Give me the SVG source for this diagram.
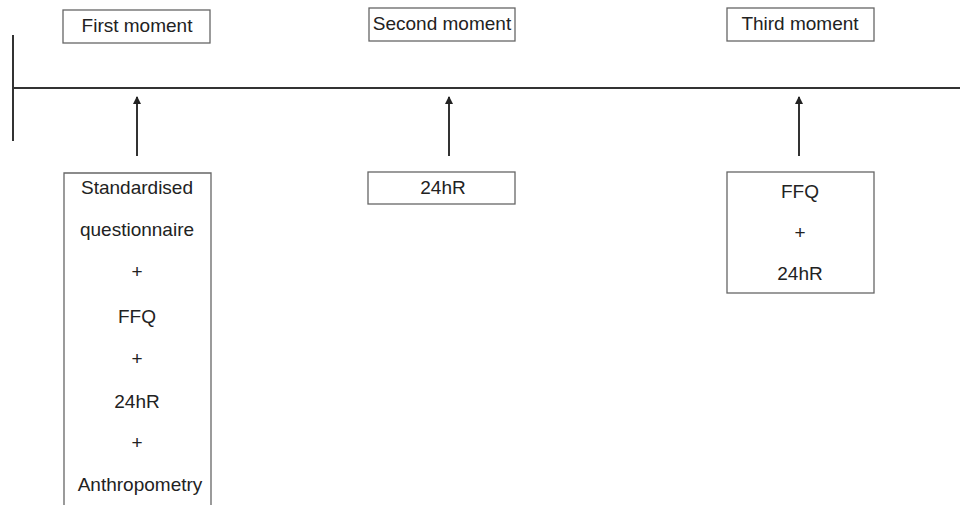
<svg xmlns="http://www.w3.org/2000/svg" width="960" height="505" viewBox="0 0 960 505">
<defs>
<style>
.box{fill:#fff;stroke:#666;stroke-width:1.3}
.t{font-family:"Liberation Sans",Arial,sans-serif;font-size:19px;fill:#222;text-anchor:middle}
.ln{stroke:#333;stroke-width:2;fill:none}
</style>
<marker id="ah" viewBox="0 0 8 10" refX="7" refY="5" markerWidth="8" markerHeight="10" orient="auto" markerUnits="userSpaceOnUse"><path d="M0,1L8,5L0,9z" fill="#222"/></marker>
</defs>
<rect width="960" height="505" fill="#fff"/>
<g id="connectors">
<line class="ln" x1="13" y1="35" x2="13" y2="141"/>
<line class="ln" x1="13" y1="88" x2="960" y2="88"/>
<line class="ln" x1="137" y1="156" x2="137" y2="97" marker-end="url(#ah)"/>
<line class="ln" x1="449" y1="156" x2="449" y2="97" marker-end="url(#ah)"/>
<line class="ln" x1="799" y1="156" x2="799" y2="97" marker-end="url(#ah)"/>
</g>
<g id="first-moment"><rect class="box" x="63" y="10" width="147" height="33"/><text class="t" x="137" y="32">First moment</text></g>
<g id="second-moment"><rect class="box" x="369" y="8" width="146" height="33"/><text class="t" x="442" y="30">Second moment</text></g>
<g id="third-moment"><rect class="box" x="727" y="8" width="147" height="33"/><text class="t" x="800" y="30">Third moment</text></g>
<g id="first-methods"><path class="box" d="M64,506V173H211V506"/>
<text class="t" x="137" y="194">Standardised</text>
<text class="t" x="137" y="236">questionnaire</text>
<text class="t" x="137" y="278">+</text>
<text class="t" x="137" y="323">FFQ</text>
<text class="t" x="137" y="365">+</text>
<text class="t" x="137" y="408">24hR</text>
<text class="t" x="137" y="449">+</text>
<text class="t" x="140" y="491">Anthropometry</text>
</g>
<g id="second-methods"><rect class="box" x="368" y="172" width="147" height="32"/><text class="t" x="443" y="194">24hR</text></g>
<g id="third-methods"><rect class="box" x="727" y="172" width="147" height="121"/>
<text class="t" x="800" y="198">FFQ</text>
<text class="t" x="800" y="239">+</text>
<text class="t" x="800" y="280">24hR</text>
</g>
</svg>
